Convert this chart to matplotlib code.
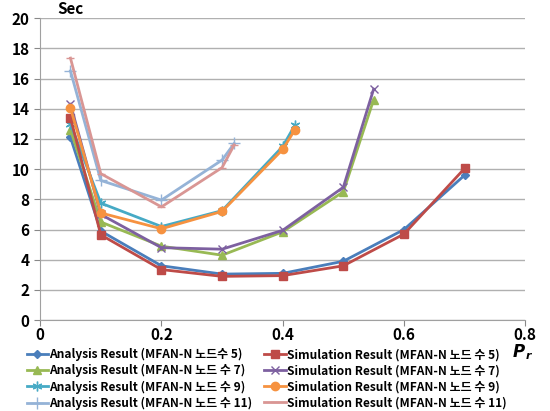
import matplotlib
matplotlib.use('Agg')
import matplotlib.pyplot as plt

plt.rcParams['font.family'] = ['Noto Sans CJK KR', 'DejaVu Sans']

# x positions (Pr) and delay values (Sec)
x_5 = [0.05, 0.1, 0.2, 0.3, 0.4, 0.5, 0.6, 0.7]
ana_5 = [12.1, 5.9, 3.6, 3.05, 3.1, 3.9, 6.0, 9.6]
sim_5 = [13.4, 5.65, 3.35, 2.9, 2.95, 3.6, 5.7, 10.05]

x_7 = [0.05, 0.1, 0.2, 0.3, 0.4, 0.5, 0.55]
ana_7 = [12.6, 6.5, 4.9, 4.3, 5.85, 8.5, 14.6]
sim_7 = [14.3, 7.0, 4.8, 4.7, 5.95, 8.8, 15.3]

x_9 = [0.05, 0.1, 0.2, 0.3, 0.4, 0.42]
ana_9 = [13.0, 7.75, 6.2, 7.25, 11.5, 12.9]
sim_9 = [14.05, 7.1, 6.05, 7.2, 11.3, 12.6]

x_11 = [0.05, 0.1, 0.2, 0.3, 0.32]
ana_11 = [16.5, 9.25, 7.95, 10.6, 11.7]
sim_11 = [17.35, 9.7, 7.5, 10.1, 11.6]

labels_ana = ['Analysis Result (MFAN-N 노드수 5)', 'Analysis Result (MFAN-N 노드 수 7)',
              'Analysis Result (MFAN-N 노드 수 9)', 'Analysis Result (MFAN-N 노드 수 11)']
labels_sim = ['Simulation Result (MFAN-N 노드 수 5)', 'Simulation Result (MFAN-N 노드 수 7)',
              'Simulation Result (MFAN-N 노드 수 9)', 'Simulation Result (MFAN-N 노드 수 11)']

fig = plt.figure(figsize=(5.5, 4.11), dpi=100)
ax = fig.add_axes([0.073, 0.221, 0.882, 0.735])

ax.plot(x_5, ana_5, color='#4A7EBB', marker='D', ms=4, lw=2, label=labels_ana[0])
ax.plot(x_7, ana_7, color='#98B954', marker='^', ms=6, lw=2, label=labels_ana[1])
ax.plot(x_9, ana_9, color='#46AAC5', marker=(6, 2, 0), ms=7, lw=2, label=labels_ana[2])
ax.plot(x_11, ana_11, color='#95B3D7', marker='+', ms=8, lw=2, label=labels_ana[3])
ax.plot(x_5, sim_5, color='#BE4B48', marker='s', ms=6, lw=2, label=labels_sim[0])
ax.plot(x_7, sim_7, color='#7D60A0', marker='x', ms=6, lw=2, label=labels_sim[1])
ax.plot(x_9, sim_9, color='#F69240', marker='o', ms=6, lw=2, label=labels_sim[2])
ax.plot(x_11, sim_11, color='#D99694', marker='_', ms=6, lw=2, label=labels_sim[3])

ax.set_xlim(0, 0.8)
ax.set_ylim(0, 20)
ax.set_xticks([0, 0.2, 0.4, 0.6, 0.8])
ax.set_xticklabels(['0', '0.2', '0.4', '0.6', '0.8'])
ax.set_yticks(range(0, 21, 2))
ax.tick_params(axis='both', labelsize=11, colors='#888888', labelcolor='black', length=4)
ax.tick_params(axis='x', pad=1)
for t in ax.get_xticklabels() + ax.get_yticklabels():
    t.set_fontweight('bold')
ax.grid(axis='y', color='#B0B0B0', lw=1)
ax.set_axisbelow(True)
for s in ['top', 'right']:
    ax.spines[s].set_visible(False)
for s in ['left', 'bottom']:
    ax.spines[s].set_color('#A0A0A0')

fig.text(0.105, 0.965, 'Sec', fontsize=11, fontweight='bold')
fig.text(0.955, 0.143, 'P', fontsize=12, ha='right', va='center',
         fontweight='bold', style='italic', family='DejaVu Sans')
fig.text(0.956, 0.135, 'r', fontsize=8, ha='left', va='center',
         fontweight='bold', style='italic', family='DejaVu Sans')

leg = ax.legend(loc='upper left', bbox_to_anchor=(-0.045, -0.065), ncol=2, frameon=False,
                fontsize=8.6, handlelength=1.8, handletextpad=0.1, columnspacing=1.0,
                labelspacing=0.25, borderpad=0.2)
for t in leg.get_texts():
    t.set_fontweight('bold')

fig.savefig('out.png', dpi=100)
